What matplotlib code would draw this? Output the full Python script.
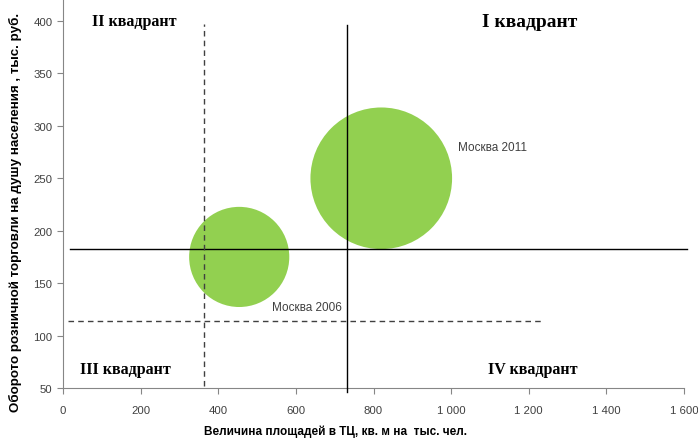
import matplotlib
matplotlib.use('Agg')
import matplotlib.pyplot as plt

# bubble data
bubble_x = [454, 820]
bubble_y = [175, 250]
bubble_size = [100, 200]
bubble_names = ['Москва 2006', 'Москва 2011']

x_ticks = [0, 200, 400, 600, 800, 1000, 1200, 1400, 1600]
x_ticklabels = ['0', '200', '400', '600', '800', '1 000', '1 200', '1 400', '1 600']
y_ticks = [50, 100, 150, 200, 250, 300, 350, 400]

# quadrant borders
mid_x = 731
mid_y = 183
dash_x = 364
dash_y = 114

fig = plt.figure(figsize=(6.98, 4.39), dpi=100)
ax = fig.add_axes([63/698, 50/439, 621/698, 389/439])

ax.scatter(bubble_x, bubble_y, s=[v * 52 for v in bubble_size], color='#92D050',
           edgecolors='none', zorder=1)

# solid cross
ax.plot([18, 1608], [mid_y, mid_y], color='black', lw=1.0, clip_on=False, zorder=3)
ax.plot([mid_x, mid_x], [46, 396], color='black', lw=1.0, clip_on=False, zorder=3)
# dashed cross
ax.plot([13, 1236], [dash_y, dash_y], color='#404040', lw=1.0, ls=(0, (4, 3)), zorder=3)
ax.plot([dash_x, dash_x], [52, 397], color='#404040', lw=1.0, ls=(0, (4, 3)), zorder=3)

ax.set_xlim(0, 1600)
ax.set_ylim(50, 421)
ax.set_xticks(x_ticks)
ax.set_xticklabels(x_ticklabels)
ax.set_yticks(y_ticks)
ax.spines['top'].set_visible(False)
ax.spines['right'].set_visible(False)
for s in ['left', 'bottom']:
    ax.spines[s].set_color('#868686')
ax.tick_params(colors='#868686', labelcolor='#404040', labelsize=8.2, direction='out',
               length=4)
for lab in ax.get_xticklabels() + ax.get_yticklabels():
    lab.set_family('Liberation Sans')
ax.tick_params(axis='x', pad=8)

qfont = dict(family='Liberation Serif', fontweight='bold', fontsize=11.5, color='black')
ax.text(74, 400, 'II квадрант', va='center', ha='left', **qfont)
ax.text(1080, 400, 'I квадрант', va='center', ha='left', fontsize=14,
        family='Liberation Serif', fontweight='bold', color='black')
ax.text(44, 68, 'III квадрант', va='center', ha='left', **qfont)
ax.text(1095, 68, 'IV квадрант', va='center', ha='left', **qfont)

ax.text(1017, 280, bubble_names[1], fontsize=8.5, family='Liberation Sans',
        color='#404040', va='center', ha='left')
ax.text(538, 127, bubble_names[0], fontsize=8.5, family='Liberation Sans',
        color='#404040', va='center', ha='left')

fig.text(15/698, 1 - 212/439, 'Оборото розничной торговли на душу населения , тыс. руб.',
         rotation=90, ha='center', va='center', fontsize=9.6, fontweight='bold',
         family='Liberation Sans')
fig.text(336/698, 1 - 432/439, 'Величина площадей в ТЦ, кв. м на  тыс. чел.',
         ha='center', va='center', fontsize=8.5, fontweight='bold',
         family='Liberation Sans')

plt.savefig('out.png', dpi=100)
